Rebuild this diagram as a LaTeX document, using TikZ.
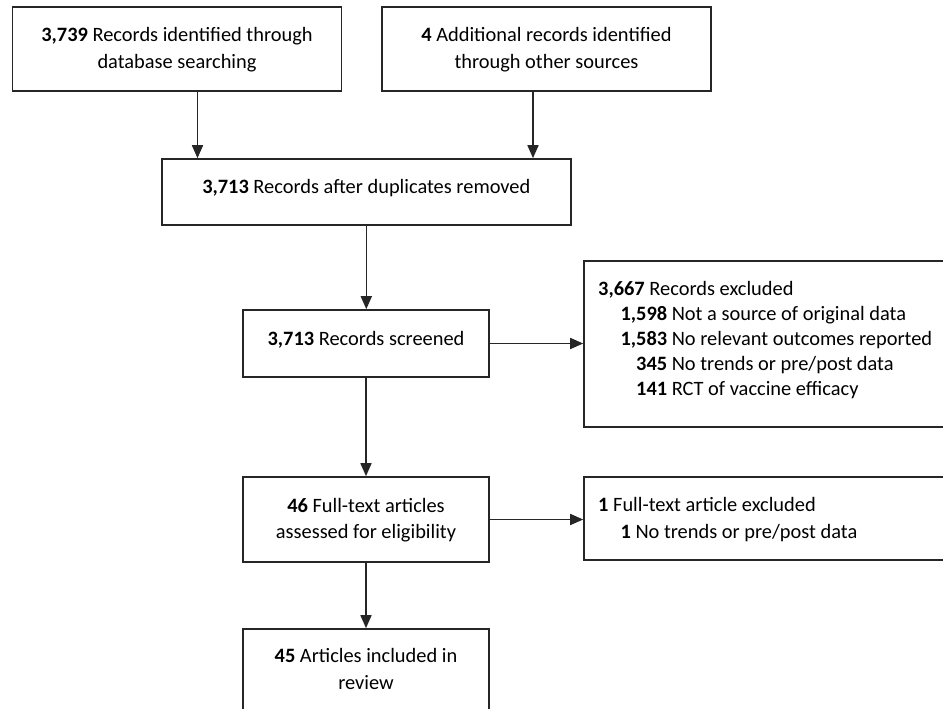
\documentclass[tikz,border=0pt]{standalone}
\usepackage{fontspec}
\setmainfont{Carlito}
\usetikzlibrary{arrows.meta}
\begin{document}
\begin{tikzpicture}[x=1pt,y=-1pt,
  box/.style={draw=black!85, line width=1.6pt, inner sep=0pt},
  txt/.style={inner sep=0pt, font=\fontsize{20.4}{26.5}\selectfont},
  txtl/.style={inner sep=0pt, font=\fontsize{20.4}{25}\selectfont},
  arr/.style={draw=black!85, line width=1.6pt, -{Triangle[length=13pt,width=11pt]}}]
\useasboundingbox (0,0) rectangle (943,709);
\clip (0,0) rectangle (943,709);
% boxes
\node[box, minimum width=329pt, minimum height=84pt] (b1) at (177,49) {};
\node[box, minimum width=329pt, minimum height=84pt] (b2) at (546.5,49) {};
\node[box, minimum width=409pt, minimum height=66pt] (b3) at (366.3,192) {};
\node[box, minimum width=246pt, minimum height=67pt] (b4) at (366,343.5) {};
\node[box, minimum width=246pt, minimum height=85pt] (b5) at (366,519.5) {};
\node[box, minimum width=246pt, minimum height=131pt] (b6) at (366,694.5) {};
\node[box, minimum width=376pt, minimum height=166pt] (e1) at (772,344) {};
\node[box, minimum width=376pt, minimum height=83pt] (e2) at (772,518.5) {};
% texts
\node[txt, anchor=base] (t1) at (177,42) {\begin{tabular}[t]{@{}c@{}}\textbf{3,739} Records identified through\\ database searching\end{tabular}};
\node[txt, anchor=base] (t2) at (546.5,42) {\begin{tabular}[t]{@{}c@{}}\textbf{4} Additional records identified\\ through other sources\end{tabular}};
\node[txt, anchor=base] (t3) at (366.3,193) {\textbf{3,713} Records after duplicates removed};
\node[txt, anchor=base] (t4) at (366,345.5) {\textbf{3,713} Records screened};
\node[txt, anchor=base] (t5) at (366,512) {\begin{tabular}[t]{@{}c@{}}\textbf{46} Full-text articles\\ assessed for eligibility\end{tabular}};
\node[txt, anchor=base] (t6) at (366,662.5) {\begin{tabular}[t]{@{}c@{}}\textbf{45} Articles included in\\ review\end{tabular}};
\node[txtl, anchor=base west] (t7) at (598,295.5) {\begin{tabular}[t]{@{}l@{}}\textbf{3,667} Records excluded\\
\makebox[69pt][r]{\textbf{1,598}} Not a source of original data\\
\makebox[69pt][r]{\textbf{1,583}} No relevant outcomes reported\\
\makebox[69pt][r]{\textbf{345}} No trends or pre/post data\\
\makebox[69pt][r]{\textbf{141}} RCT of vaccine efficacy\end{tabular}};
\node[txt, anchor=base west] (t8) at (598,511.5) {\begin{tabular}[t]{@{}l@{}}\textbf{1} Full-text article excluded\\
\makebox[32.7pt][r]{\textbf{1}} No trends or pre/post data\end{tabular}};
% connectors
\coordinate (c1) at (197.5,0);
\coordinate (c2) at (533,0);
\draw[arr] (b1.south -| c1) -- (b3.north -| c1);
\draw[arr] (b2.south -| c2) -- (b3.north -| c2);
\draw[arr] (b3.south) -- (b3.south |- b4.north);
\draw[arr] (b4.south) -- (b5.north);
\draw[arr] (b5.south) -- (b6.north);
\draw[arr] (b4.east) -- (b4.east -| e1.west);
\draw[arr] (b5.east) -- (b5.east -| e2.west);
\end{tikzpicture}
\end{document}
